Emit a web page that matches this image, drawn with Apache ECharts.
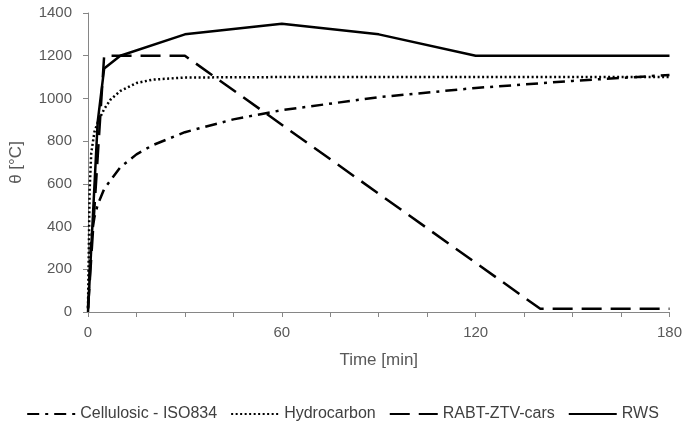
<!DOCTYPE html>
<html><head><meta charset="utf-8">
<script src="https://cdn.jsdelivr.net/npm/echarts@6/dist/echarts.min.js"></script>
<style>html,body{margin:0;padding:0;background:#fff}#c{width:685px;height:423px}</style>
</head><body><div id="c"></div>
<script>
var cellulosicT = [0, 1, 2, 3, 5, 10, 15, 20, 30, 45, 60, 90, 120, 150, 180];
var cellulosicV = [20, 349, 445, 502, 576, 678, 738, 781, 842, 902, 945, 1006, 1049, 1082, 1110];
var hydroT = [0, 0.5, 1, 2, 3, 5, 7, 10, 15, 20, 30, 60, 180];
var hydroV = [20, 569, 744, 844, 887, 950, 995, 1035, 1072, 1088, 1098, 1100, 1100];
var rabtT = [0, 5, 30, 140, 180];
var rabtV = [15, 1200, 1200, 15, 15];
var rwsT = [0, 3, 5, 10, 30, 60, 90, 120, 180];
var rwsV = [0, 890, 1140, 1200, 1300, 1350, 1300, 1200, 1200];
var seriesNames = ['Cellulosic - ISO834', 'Hydrocarbon', 'RABT-ZTV-cars', 'RWS'];
var xTickLabels = [0, 60, 120, 180];

function pts(t, v) { return t.map(function (x, i) { return [x, v[i]]; }); }
var font = 'Liberation Sans';
var chart = echarts.init(document.getElementById('c'), null, {renderer: 'canvas'});
chart.setOption({
  animation: false,
  grid: {left: 87, right: 14, top: 13, bottom: 111},
  legend: {
    top: 401, left: 'center', itemWidth: 48, itemHeight: 14, itemGap: 13,
    itemStyle: {opacity: 0},
    textStyle: {color: '#404040', fontSize: 16, fontFamily: font},
    data: seriesNames
  },
  xAxis: {
    type: 'value', min: 0, max: 180, interval: 15,
    name: 'Time [min]', nameLocation: 'middle', nameGap: 40,
    nameTextStyle: {color: '#595959', fontSize: 17, fontFamily: font},
    axisLine: {lineStyle: {color: '#868686'}},
    axisTick: {show: true, length: 5, lineStyle: {color: '#868686'}},
    axisLabel: {color: '#595959', fontSize: 15, fontFamily: font, margin: 13,
      formatter: function (v) { return xTickLabels.indexOf(v) >= 0 ? String(v) : ''; }},
    splitLine: {show: false}
  },
  yAxis: {
    type: 'value', min: 0, max: 1400, interval: 200,
    name: 'θ [°C]', nameLocation: 'middle', nameGap: 63, nameRotate: 90,
    nameTextStyle: {color: '#595959', fontSize: 17, fontFamily: font},
    axisLine: {show: true, lineStyle: {color: '#868686'}},
    axisTick: {show: true, length: 5, lineStyle: {color: '#868686'}},
    axisLabel: {color: '#595959', fontSize: 15, fontFamily: font, margin: 16,
      formatter: function (v) { return String(v); }},
    splitLine: {show: false}
  },
  series: [
    {name: seriesNames[0], type: 'line', symbol: 'none', data: pts(cellulosicT, cellulosicV),
     lineStyle: {color: '#000', width: 2.5, type: [12, 6, 3, 6]}, itemStyle: {color: '#000'}},
    {name: seriesNames[1], type: 'line', symbol: 'none', data: pts(hydroT, hydroV),
     lineStyle: {color: '#000', width: 2.5, type: [2, 2.5]}, itemStyle: {color: '#000'}},
    {name: seriesNames[2], type: 'line', symbol: 'none', data: pts(rabtT, rabtV),
     lineStyle: {color: '#000', width: 2.5, type: [20, 9]}, itemStyle: {color: '#000'}},
    {name: seriesNames[3], type: 'line', symbol: 'none', data: pts(rwsT, rwsV),
     lineStyle: {color: '#000', width: 2.5, type: 'solid'}, itemStyle: {color: '#000'}}
  ]
});
</script></body></html>
